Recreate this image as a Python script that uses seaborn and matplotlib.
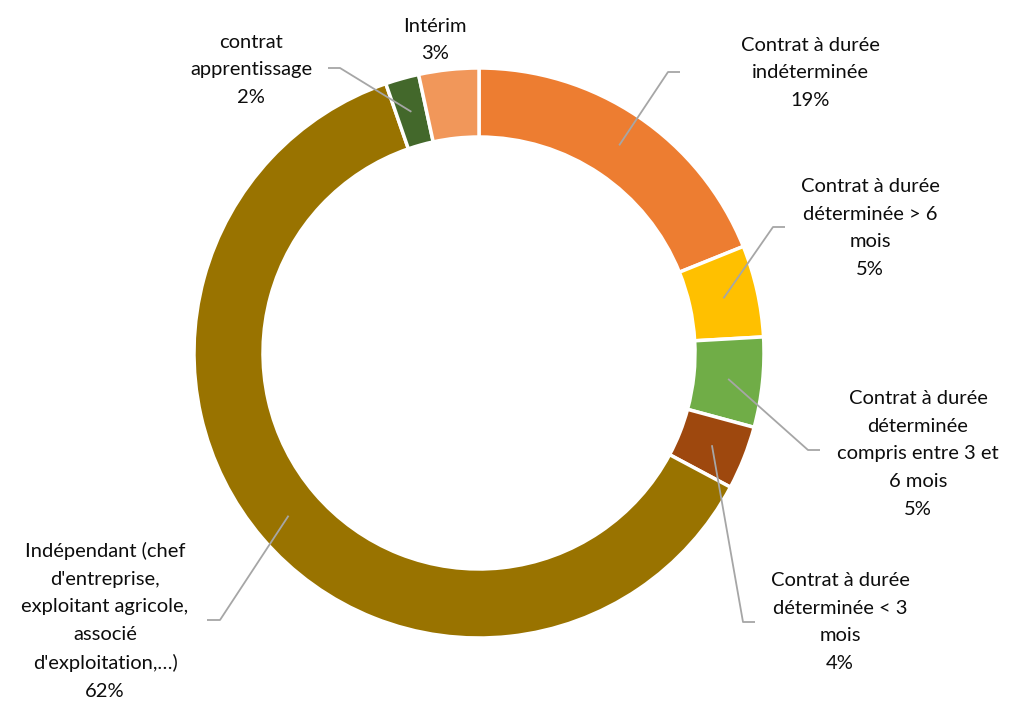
import numpy as np
import matplotlib
matplotlib.use("Agg")
import matplotlib.pyplot as plt
import seaborn as sns

categories = [
    "Contrat à durée\nindéterminée",
    "Contrat à durée\ndéterminée > 6\nmois",
    "Contrat à durée\ndéterminée\ncompris entre 3 et\n6 mois",
    "Contrat à durée\ndéterminée < 3\nmois",
    "Indépendant (chef\nd'entreprise,\nexploitant agricole,\nassocié\nd'exploitation,…)",
    "contrat\napprentissage",
    "Intérim",
]
values = [18.9, 5.2, 5.1, 3.6, 61.9, 1.9, 3.4]
colors = ["#ED7D31", "#FFC000", "#70AD47", "#9E480E", "#997300", "#43682B", "#F1975A"]

# layout (pixel coordinates, y from top)
W, H = 1011, 704
CX, CY, R, RW = 479, 353, 285, 69
label_pos = [(810, 73), (870, 228), (918, 454), (840, 622), (105, 621), (251, 70), (435, 40)]
elbows = [((668, 72), (680, 72)),
          ((773, 227), (785, 227)),
          ((808, 450), (820, 450)),
          ((743, 622), (755, 622)),
          ((220, 620), (207, 620)),
          ((340, 68), (328, 68)),
          None]

sns.set_theme(style="white")
plt.rcParams['font.family'] = ['Lato', 'DejaVu Sans']

fig = plt.figure(figsize=(W / 100, H / 100), dpi=100)
ax = fig.add_axes([0, 0, 1, 1])

def P(x, y):
    return x, H - y

ax.pie(values, colors=colors, startangle=90, counterclock=False, radius=R,
       center=P(CX, CY),
       wedgeprops=dict(width=RW, edgecolor="white", linewidth=2.5))
ax.set_xlim(0, W)
ax.set_ylim(0, H)
ax.set_aspect("equal")
ax.axis("off")

total = sum(values)
cum = 0.0
rmid = R - RW / 2
for cat, v, lp, el in zip(categories, values, label_pos, elbows):
    mid = (cum + v / 2) / total * 2 * np.pi
    cum += v
    ax_x = CX + rmid * np.sin(mid)
    ax_y = CY - rmid * np.cos(mid)
    if el is not None:
        pts = [(ax_x, ax_y), el[0], el[1]]
        xs = [p[0] for p in pts]
        ys = [H - p[1] for p in pts]
        ax.plot(xs, ys, color="#A6A6A6", lw=1.3, solid_capstyle="butt")
    txt = f"{cat}\n{v / total * 100:.0f}%"
    ax.text(*P(*lp), txt, ha="center", va="center", fontsize=14.5,
            linespacing=1.76, color="#0d0d0d")

fig.savefig("out.png", dpi=100)
